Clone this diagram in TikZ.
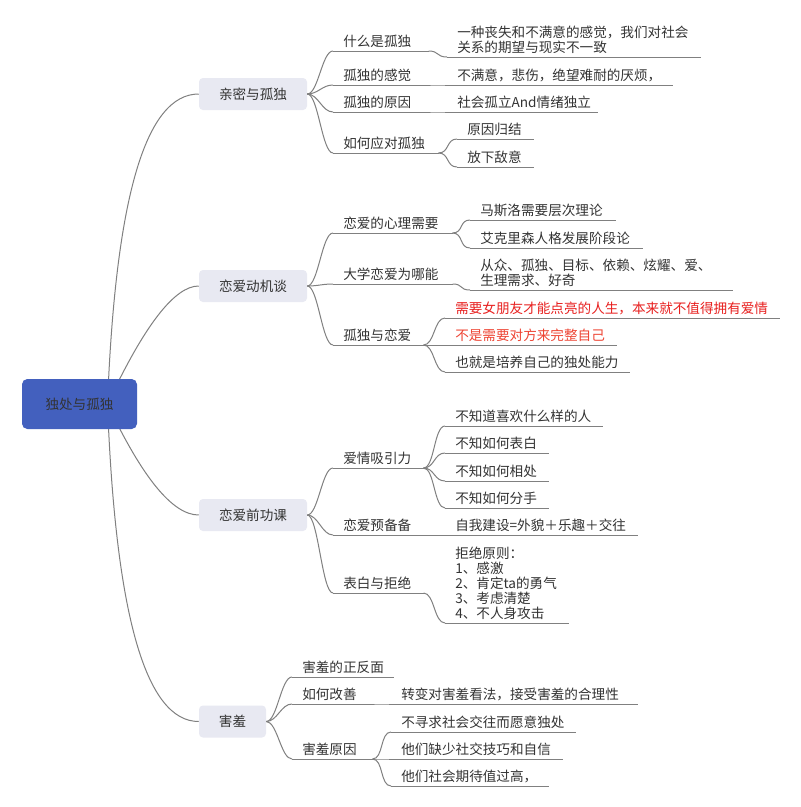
\documentclass[tikz,border=0pt]{standalone}
\usepackage{fontspec}
\setmainfont{Noto Sans CJK SC}
\usetikzlibrary{backgrounds}

\definecolor{rootblue}{RGB}{67,96,190}
\definecolor{boxgray}{RGB}{232,233,242}
\definecolor{linegray}{RGB}{128,128,128}
\definecolor{textdark}{RGB}{51,51,51}
\definecolor{redA}{RGB}{232,32,31}
\definecolor{redB}{RGB}{238,68,51}

\tikzset{
  link/.style={draw=linegray, line width=0.75pt},
  branch/.style={link, to path={.. controls +(11,0) and +(-11,0) .. (\tikztotarget)}},
  rootbox/.style={fill=rootblue, rounded corners=4pt, minimum width=86.25pt, minimum height=37.5pt, text=textdark},
  mainbox/.style={fill=boxgray, rounded corners=3pt, minimum height=24pt, text=textdark},
  topic/.style={anchor=south west, inner xsep=7.5pt, inner ysep=2.25pt, align=left, text width=#1, text=textdark}
}

\begin{document}
\begin{tikzpicture}[x=0.75pt, y=-0.75pt, font=\fontsize{10.2}{11.25}\selectfont]

    \useasboundingbox (0,0) rectangle (800,807);

    % Root and main topics
    \node[rootbox] (root) at (79.5,404) {独处与孤独};
    \coordinate (hub) at ([xshift=21pt]root.center);
    \node[mainbox, minimum width=81pt] (intimacy) at (253,94) {亲密与孤独};
    \node[mainbox, minimum width=81pt] (motive) at (253,286) {恋爱动机谈};
    \node[mainbox, minimum width=81pt] (prep) at (253,515) {恋爱前功课};
    \node[mainbox, minimum width=50.25pt] (shy) at (232.5,721.5) {害羞};

    % 亲密与孤独
    \node[topic=56.25pt] (whatis) at (333,51) {什么是孤独};
    \node[topic=56.25pt] (feeling) at (333,85) {孤独的感觉};
    \node[topic=56.25pt] (cause) at (333,112) {孤独的原因};
    \node[topic=63.75pt] (cope) at (333,153) {如何应对孤独};
    \node[topic=174.75pt] (whatisdef) at (447,57) {一种丧失和不满意的感觉，我们对社会\\关系的期望与现实不一致};
    \node[topic=153.75pt] (feelingdef) at (447,85) {不满意，悲伤，绝望难耐的厌烦，};
    \node[topic=97.5pt] (causedef) at (447,112) {社会孤立And情绪独立};
    \node[topic=42pt] (copeA) at (457,139) {原因归结};
    \node[topic=42pt] (copeB) at (457,167) {放下敌意};

    % 恋爱动机谈
    \node[topic=74.25pt] (need) at (333,233) {恋爱的心理需要};
    \node[topic=74.25pt] (college) at (333,284) {大学恋爱为哪能};
    \node[topic=52.5pt] (lonely) at (333,345) {孤独与恋爱};
    \node[topic=93.75pt] (maslow) at (470,220) {马斯洛需要层次理论};
    \node[topic=114pt] (erikson) at (470,248) {艾克里森人格发展阶段论};
    \node[topic=181.5pt] (reasons) at (470,290) {从众、孤独、目标、依赖、炫耀、爱、\\生理需求、好奇};
    \node[topic=235.5pt, text=redA] (needgf) at (445,318) {需要女朋友才能点亮的人生，本来就不值得拥有爱情};
    \node[topic=113.25pt, text=redB] (notneed) at (445,345) {不是需要对方来完整自己};
    \node[topic=123pt] (alone) at (445,372) {也就是培养自己的独处能力};

    % 恋爱前功课
    \node[topic=52.5pt] (attract) at (333,468) {爱情吸引力};
    \node[topic=52.5pt] (ready) at (333,535) {恋爱预备备};
    \node[topic=52.5pt] (confess) at (333,593) {表白与拒绝};
    \node[topic=102.75pt] (attractA) at (445,426) {不知道喜欢什么样的人};
    \node[topic=62.25pt] (attractB) at (445,453) {不知如何表白};
    \node[topic=62.25pt] (attractC) at (445,481) {不知如何相处};
    \node[topic=62.25pt] (attractD) at (445,508) {不知如何分手};
    \node[topic=129pt] (readydef) at (445,535) {自我建设=外貌＋乐趣＋交往};
    \node[topic=77.25pt] (rejectrule) at (445,623) {拒绝原则：\\1、感激\\2、肯定ta的勇气\\3、考虑清楚\\4、不人身攻击};

    % 害羞
    \node[topic=60.75pt] (sides) at (292,677) {害羞的正反面};
    \node[topic=45pt] (improve) at (292,704) {如何改善};
    \node[topic=45pt] (shycause) at (292,759) {害羞原因};
    \node[topic=169.5pt] (improvedef) at (391,704) {转变对害羞看法，接受害羞的合理性};
    \node[topic=123pt] (shyA) at (391,732) {不寻求社会交往而愿意独处};
    \node[topic=113.25pt] (shyB) at (391,759) {他们缺少社交技巧和自信};
    \node[topic=102.75pt] (shyC) at (391,786) {他们社会期待值过高，};

    % Underlines
    \foreach \n in {whatis, feeling, cause, cope, whatisdef, feelingdef, causedef, copeA, copeB,
                    need, college, lonely, maslow, erikson, reasons, needgf, notneed, alone,
                    attract, ready, confess, attractA, attractB, attractC, attractD, readydef, rejectrule,
                    sides, improve, shycause, improvedef, shyA, shyB, shyC}
        \draw[link] (\n.south west) -- (\n.south east);

    % Root curves (behind the root box)
    \begin{scope}[on background layer]
        \fill[white] (0,0) rectangle (800,807);
        \draw[link] (hub) .. controls +(8,-207) and +(-53,0) .. (intimacy.west);
        \draw[link] (hub) .. controls +(37,-79) and +(-24,0) .. (motive.west);
        \draw[link] (hub) .. controls +(35,74) and +(-26,0) .. (prep.west);
        \draw[link] (hub) .. controls +(8,211) and +(-53,0) .. (shy.west);
    \end{scope}

    % Branches
    \draw[branch] (intimacy.east) to (whatis.south west);
    \draw[branch] (intimacy.east) to (feeling.south west);
    \draw[branch] (intimacy.east) to (cause.south west);
    \draw[branch] (intimacy.east) to (cope.south west);
    \draw[branch] (whatis.south east) to (whatisdef.south west);
    \draw[branch] (feeling.south east) to (feelingdef.south west);
    \draw[branch] (cause.south east) to (causedef.south west);
    \draw[branch] (cope.south east) to (copeA.south west);
    \draw[branch] (cope.south east) to (copeB.south west);

    \draw[branch] (motive.east) to (need.south west);
    \draw[branch] (motive.east) to (college.south west);
    \draw[branch] (motive.east) to (lonely.south west);
    \draw[branch] (need.south east) to (maslow.south west);
    \draw[branch] (need.south east) to (erikson.south west);
    \draw[branch] (college.south east) to (reasons.south west);
    \draw[branch] (lonely.south east) to (needgf.south west);
    \draw[branch] (lonely.south east) to (notneed.south west);
    \draw[branch] (lonely.south east) to (alone.south west);

    \draw[branch] (prep.east) to (attract.south west);
    \draw[branch] (prep.east) to (ready.south west);
    \draw[branch] (prep.east) to (confess.south west);
    \draw[branch] (attract.south east) to (attractA.south west);
    \draw[branch] (attract.south east) to (attractB.south west);
    \draw[branch] (attract.south east) to (attractC.south west);
    \draw[branch] (attract.south east) to (attractD.south west);
    \draw[branch] (ready.south east) to (readydef.south west);
    \draw[branch] (confess.south east) to (rejectrule.south west);

    \draw[branch] (shy.east) to (sides.south west);
    \draw[branch] (shy.east) to (improve.south west);
    \draw[branch] (shy.east) to (shycause.south west);
    \draw[branch] (improve.south east) to (improvedef.south west);
    \draw[branch] (shycause.south east) to (shyA.south west);
    \draw[branch] (shycause.south east) to (shyB.south west);
    \draw[branch] (shycause.south east) to (shyC.south west);

\end{tikzpicture}
\end{document}
